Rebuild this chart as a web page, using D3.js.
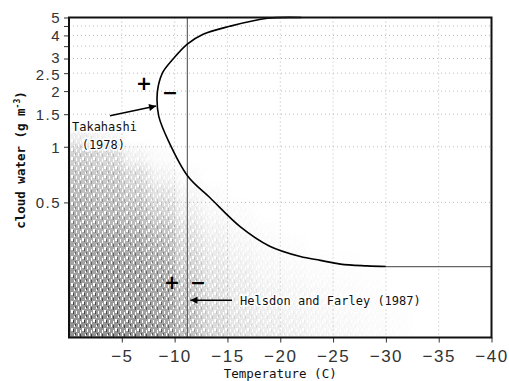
<!DOCTYPE html>
<html>
<head>
<meta charset="utf-8">
<script src="https://cdn.jsdelivr.net/npm/d3@7"></script>
<style>
  body { margin: 0; background: #fff; }
  svg { display: block; }
  .tick text { font-family: "Liberation Sans", Arial, sans-serif; font-size: 17px; fill: #333; letter-spacing: 1.5px; }
  .lbl { font-family: "DejaVu Sans Mono", monospace; font-size: 12px; fill: #111; }
</style>
</head>
<body>
<div id="chart"></div>
<script>
// axis ticks
const tempTicks = [-5, -10, -15, -20, -25, -30, -35, -40];
const waterTicks = [0.5, 1, 1.5, 2, 2.5, 3, 3.5, 4, 4.5, 5];
const waterLabels = ["0.5", "1", "1.5", "2", "2.5", "3", "", "4", "", "5"];

// Takahashi (1978) charge reversal curve
const takT = [-22, -18.8, -15.2, -12.7, -11.2, -9.85, -8.9, -8.45, -8.33, -8.5, -9.4, -11.27, -13.35, -16.2, -19, -21.9, -23.8, -25.7, -28.2, -30];
const takW = [5.0, 4.95, 4.48, 4.06, 3.59, 2.98, 2.54, 2.13, 1.81, 1.46, 1.08, 0.69, 0.53, 0.37, 0.29, 0.255, 0.243, 0.232, 0.227, 0.225];
const plateauT = [-30, -40];
const plateauW = [0.225, 0.225];

// Helsdon and Farley (1987) reversal temperature
const helsdonT = -11.2;

// density of the observation cloud (0..1), rows from high to low cloud water
const binT = [0, -2.5, -5, -7.5, -10, -12.5, -15, -17.5, -20, -22.5, -25, -27.5, -30, -32.5];
const binW = [1.25, 1.0, 0.78, 0.62, 0.5, 0.4, 0.33, 0.27, 0.22, 0.185, 0.155, 0.13, 0.11, 0.093];
const density = [
  [0.15, 0.08, 0, 0, 0, 0, 0, 0, 0, 0, 0, 0, 0],
  [0.40, 0.32, 0.10, 0.03, 0, 0, 0, 0, 0, 0, 0, 0, 0],
  [0.50, 0.45, 0.30, 0.10, 0.03, 0, 0, 0, 0, 0, 0, 0, 0],
  [0.58, 0.52, 0.42, 0.24, 0.08, 0.03, 0, 0, 0, 0, 0, 0, 0],
  [0.65, 0.60, 0.52, 0.36, 0.14, 0.06, 0.03, 0, 0, 0, 0, 0, 0],
  [0.72, 0.68, 0.62, 0.50, 0.22, 0.10, 0.05, 0.02, 0, 0, 0, 0, 0],
  [0.78, 0.75, 0.70, 0.58, 0.28, 0.14, 0.08, 0.04, 0.02, 0, 0, 0, 0],
  [0.82, 0.80, 0.75, 0.66, 0.34, 0.18, 0.10, 0.06, 0.04, 0.02, 0.01, 0, 0],
  [0.86, 0.84, 0.80, 0.72, 0.40, 0.22, 0.14, 0.08, 0.05, 0.03, 0.02, 0.01, 0],
  [0.90, 0.88, 0.84, 0.76, 0.45, 0.25, 0.16, 0.10, 0.07, 0.05, 0.03, 0.02, 0],
  [0.92, 0.90, 0.86, 0.78, 0.48, 0.28, 0.18, 0.12, 0.08, 0.06, 0.04, 0.03, 0.01],
  [0.94, 0.92, 0.88, 0.80, 0.50, 0.30, 0.20, 0.14, 0.10, 0.07, 0.05, 0.03, 0.02],
  [0.97, 0.95, 0.90, 0.82, 0.52, 0.32, 0.22, 0.16, 0.12, 0.08, 0.06, 0.04, 0.02]
];

const width = 509, height = 381;
const margin = { top: 17.5, right: 17.5, bottom: 43.5, left: 69 };

const svg = d3.select('#chart').append('svg')
  .attr('width', width)
  .attr('height', height);

const x = d3.scaleLinear().domain([0, -40]).range([margin.left, width - margin.right]);
const y = d3.scaleLog().domain([0.093, 5]).range([height - margin.bottom, margin.top]);
const [px0, px1] = x.range();
const [yBottom, yTop] = y.range();

const defs = svg.append('defs');

// speckle texture for the point cloud
const pat = defs.append('pattern').attr('id', 'speck')
  .attr('patternUnits', 'userSpaceOnUse').attr('width', 11).attr('height', 9);
pat.append('rect').attr('width', 11).attr('height', 9).attr('fill', '#8e8e8e');
[[1, 0, 1, 3], [5, 4, 2, 3], [8, 1, 1, 2], [3, 6, 1, 3], [10, 5, 1, 3]].forEach(r =>
  pat.append('rect').attr('x', r[0]).attr('y', r[1]).attr('width', r[2]).attr('height', r[3]).attr('fill', '#fff'));
[[3, 1, 1, 3], [7, 5, 1, 3], [9, 0, 1, 2]].forEach(r =>
  pat.append('rect').attr('x', r[0]).attr('y', r[1]).attr('width', r[2]).attr('height', r[3]).attr('fill', '#333'));

// soft density mask built from the cells
defs.append('filter').attr('id', 'soft')
  .attr('filterUnits', 'userSpaceOnUse')
  .attr('x', 0).attr('y', 0).attr('width', width).attr('height', height)
  .append('feGaussianBlur').attr('stdDeviation', 5);

const cells = [];
density.forEach((row, i) => row.forEach((v, j) => {
  if (v > 0) cells.push({ i: i, j: j, t0: binT[j], t1: binT[j + 1], w0: binW[i], w1: binW[i + 1], v: v });
}));
const mask = defs.append('mask').attr('id', 'cloud')
  .attr('maskUnits', 'userSpaceOnUse')
  .attr('x', 0).attr('y', 0).attr('width', width).attr('height', height);
mask.append('g').attr('filter', 'url(#soft)')
  .selectAll('rect').data(cells).enter().append('rect')
  .attr('x', d => x(d.t0) - (d.j === 0 ? 20 : 0))
  .attr('y', d => y(d.w0))
  .attr('width', d => x(d.t1) - x(d.t0) + (d.j === 0 ? 20 : 0))
  .attr('height', d => y(d.w1) - y(d.w0) + (d.i === density.length - 1 ? 20 : 0))
  .attr('fill', '#fff')
  .attr('fill-opacity', d => d.v);

defs.append('clipPath').attr('id', 'plot')
  .append('rect').attr('x', px0).attr('y', yTop).attr('width', px1 - px0).attr('height', yBottom - yTop);

defs.append('marker').attr('id', 'arrow')
  .attr('viewBox', '0 0 10 10').attr('refX', 10).attr('refY', 5)
  .attr('markerWidth', 10).attr('markerHeight', 7).attr('markerUnits', 'userSpaceOnUse')
  .attr('orient', 'auto')
  .append('path').attr('d', 'M0,0 L10,5 L0,10 z').attr('fill', '#000');

// grid
const grid = svg.append('g');
grid.selectAll('.gx').data(tempTicks.slice(0, -1)).enter().append('line')
  .attr('x1', d => x(d)).attr('x2', d => x(d))
  .attr('y1', yTop).attr('y2', yBottom)
  .attr('stroke', '#bbb').attr('stroke-dasharray', '1,3');
grid.selectAll('.gy').data(waterTicks.slice(0, -1)).enter().append('line')
  .attr('x1', px0).attr('x2', px1)
  .attr('y1', d => y(d)).attr('y2', d => y(d))
  .attr('stroke', '#bbb').attr('stroke-dasharray', '1,3');

// observation cloud
svg.append('g').attr('clip-path', 'url(#plot)')
  .append('rect')
  .attr('x', px0).attr('y', yTop).attr('width', px1 - px0).attr('height', yBottom - yTop)
  .attr('mask', 'url(#cloud)')
  .attr('fill', 'url(#speck)');

// Helsdon line
svg.append('line')
  .attr('x1', x(helsdonT)).attr('x2', x(helsdonT))
  .attr('y1', yTop).attr('y2', yBottom)
  .attr('stroke', '#444').attr('stroke-width', 1);

// Takahashi curve
const curve = d3.line().x(d => x(d[0])).y(d => y(d[1])).curve(d3.curveCatmullRom);
svg.append('path')
  .datum(d3.zip(takT, takW))
  .attr('fill', 'none').attr('stroke', '#000').attr('stroke-width', 1.6)
  .attr('d', curve);
svg.append('path')
  .datum(d3.zip(plateauT, plateauW))
  .attr('fill', 'none').attr('stroke', '#666').attr('stroke-width', 1.2)
  .attr('d', d3.line().x(d => x(d[0])).y(d => y(d[1])));

// axes
const xAxis = svg.append('g')
  .attr('transform', `translate(0,${yBottom})`)
  .call(d3.axisBottom(x).tickValues(tempTicks).tickSize(5)
    .tickFormat(d => '\u2212' + Math.abs(d)));
const yAxis = svg.append('g')
  .attr('transform', `translate(${px0},0)`)
  .call(d3.axisLeft(y).tickValues(waterTicks).tickSize(5).tickPadding(3)
    .tickFormat((d, i) => waterLabels[i]));
[xAxis, yAxis].forEach(a => {
  a.select('.domain').remove();
  a.selectAll('.tick line').attr('stroke', '#333');
});
xAxis.selectAll('.tick text').attr('y', 24).attr('dy', 0);
// 3 and 2.5 sit tight together, nudge them apart a little
yAxis.selectAll('.tick text')
  .attr('dy', d => d === 3 ? '0.28em' : d === 2.5 ? '0.44em' : '0.36em')
  .style('font-size', '15px');

// frame
svg.append('rect')
  .attr('x', px0).attr('y', yTop)
  .attr('width', px1 - px0).attr('height', yBottom - yTop)
  .attr('fill', 'none').attr('stroke', '#111').attr('stroke-width', 2);

// annotations
const halo = sel => sel.attr('stroke', '#fff').attr('stroke-width', 3).attr('paint-order', 'stroke');
halo(svg.append('text').attr('class', 'lbl').attr('x', x(-0.28)).attr('y', y(1.22)).text('Takahashi'));
halo(svg.append('text').attr('class', 'lbl').attr('x', x(-1.2)).attr('y', y(0.97)).text('(1978)'));
svg.append('line')
  .attr('x1', x(-3.88)).attr('y1', y(1.47)).attr('x2', x(-8.24)).attr('y2', y(1.66))
  .attr('stroke', '#000').attr('stroke-width', 1.5).attr('marker-end', 'url(#arrow)');
halo(svg.append('text').attr('class', 'lbl').attr('x', x(-16.2)).attr('y', y(0.139))
  .text('Helsdon and Farley (1987)'));
svg.append('line')
  .attr('x1', x(-15.43)).attr('y1', y(0.148)).attr('x2', x(-11.5)).attr('y2', y(0.148))
  .attr('stroke', '#000').attr('stroke-width', 1.5).attr('marker-end', 'url(#arrow)');

const signs = [
  { t: -7.1, w: 2.19, s: '+' }, { t: -9.56, w: 1.98, s: '\u2212' },
  { t: -9.75, w: 0.185, s: '+' }, { t: -12.2, w: 0.185, s: '\u2212' }
];
svg.selectAll('.sign').data(signs).enter().append('text')
  .attr('x', d => x(d.t)).attr('y', d => y(d.w))
  .attr('text-anchor', 'middle').attr('dy', '0.35em')
  .style('font-family', '"DejaVu Sans", sans-serif').style('font-size', '19px').style('font-weight', 'bold')
  .text(d => d.s);

// axis titles
svg.append('text').attr('class', 'lbl')
  .attr('x', (px0 + px1) / 2).attr('y', 378)
  .attr('text-anchor', 'middle').style('font-size', '12.5px').text('Temperature (C)');
const yt = svg.append('text').attr('class', 'lbl')
  .attr('transform', 'translate(25,160) rotate(-90)')
  .attr('text-anchor', 'middle').style('font-size', '12.5px').style('font-weight', 'bold');
yt.append('tspan').text('cloud water (g m');
yt.append('tspan').attr('dy', -5).style('font-size', '8px').text('-3');
yt.append('tspan').attr('dy', 5).text(')');
</script>
</body>
</html>
